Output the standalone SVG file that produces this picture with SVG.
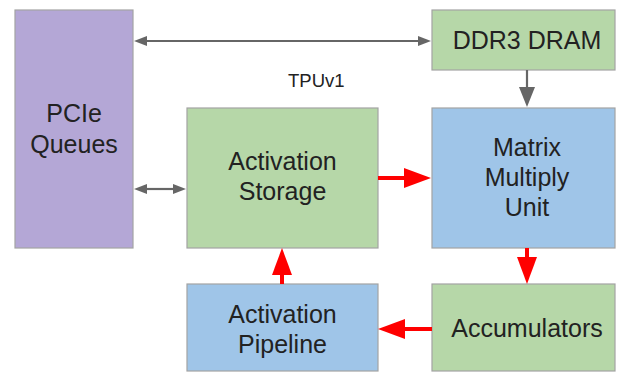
<svg xmlns="http://www.w3.org/2000/svg" width="617" height="372" viewBox="0 0 617 372">
  <style>
    .box { stroke: #a3a3a3; stroke-width: 1.2; }
    .purple { fill: #b4a7d6; }
    .green { fill: #b6d7a8; }
    .blue { fill: #9fc5e8; }
    .label { font-family: "Liberation Sans", Arial, sans-serif; font-size: 25px; fill: #222222; text-anchor: middle; }
    .title { font-family: "Liberation Sans", Arial, sans-serif; font-size: 18.5px; fill: #222222; }
    .bus { stroke: #666666; stroke-width: 2.2; fill: none; }
    .flow { stroke: #ff0000; stroke-width: 4; fill: none; }
  </style>
  <defs>
    <marker id="greyHead" markerUnits="userSpaceOnUse" markerWidth="13" markerHeight="10" refX="0" refY="5" orient="auto-start-reverse">
      <path d="M0,0 L13,5 L0,10 z" fill="#666666"/>
    </marker>
    <marker id="greyHeadLarge" markerUnits="userSpaceOnUse" markerWidth="20" markerHeight="16" refX="0" refY="8" orient="auto">
      <path d="M0,0 L20,8 L0,16 z" fill="#666666"/>
    </marker>
    <marker id="redHead" markerUnits="userSpaceOnUse" markerWidth="27" markerHeight="20" refX="0" refY="10" orient="auto">
      <path d="M0,0 L27,10 L0,20 z" fill="#ff0000"/>
    </marker>
  </defs>

  <rect width="617" height="372" fill="#ffffff"/>

  <text class="title" x="288" y="87">TPUv1</text>

  <g id="pcie-queues">
    <rect class="box purple" x="15" y="10" width="118" height="238"/>
    <text class="label" x="74" y="122">PCIe</text>
    <text class="label" x="74" y="153">Queues</text>
  </g>

  <g id="ddr3-dram">
    <rect class="box green" x="432" y="10" width="183" height="60"/>
    <text class="label" x="527" y="49">DDR3 DRAM</text>
  </g>

  <g id="activation-storage">
    <rect class="box green" x="187" y="108" width="191" height="140"/>
    <text class="label" x="282.5" y="170">Activation</text>
    <text class="label" x="282.5" y="200">Storage</text>
  </g>

  <g id="matrix-multiply-unit">
    <rect class="box blue" x="432" y="108" width="183" height="140"/>
    <text class="label" x="527" y="156">Matrix</text>
    <text class="label" x="527" y="186">Multiply</text>
    <text class="label" x="527" y="216">Unit</text>
  </g>

  <g id="activation-pipeline">
    <rect class="box blue" x="187" y="284" width="191" height="87"/>
    <text class="label" x="282.5" y="323">Activation</text>
    <text class="label" x="282.5" y="353">Pipeline</text>
  </g>

  <g id="accumulators">
    <rect class="box green" x="432" y="284" width="183" height="87"/>
    <text class="label" x="527" y="337">Accumulators</text>
  </g>

  <g id="connectors">
    <!-- host interface buses -->
    <line class="bus" x1="147" y1="41" x2="418" y2="41" marker-start="url(#greyHead)" marker-end="url(#greyHead)"/>
    <line class="bus" x1="147" y1="189" x2="173" y2="189" marker-start="url(#greyHead)" marker-end="url(#greyHead)"/>
    <line class="bus" x1="527" y1="70" x2="527" y2="87" marker-end="url(#greyHeadLarge)"/>
    <!-- datapath loop -->
    <line class="flow" x1="378" y1="178" x2="404" y2="178" marker-end="url(#redHead)"/>
    <line class="flow" x1="527" y1="248" x2="527" y2="257" marker-end="url(#redHead)"/>
    <line class="flow" x1="432" y1="329" x2="405" y2="329" marker-end="url(#redHead)"/>
    <line class="flow" x1="282" y1="284" x2="282" y2="275" marker-end="url(#redHead)"/>
  </g>
</svg>
